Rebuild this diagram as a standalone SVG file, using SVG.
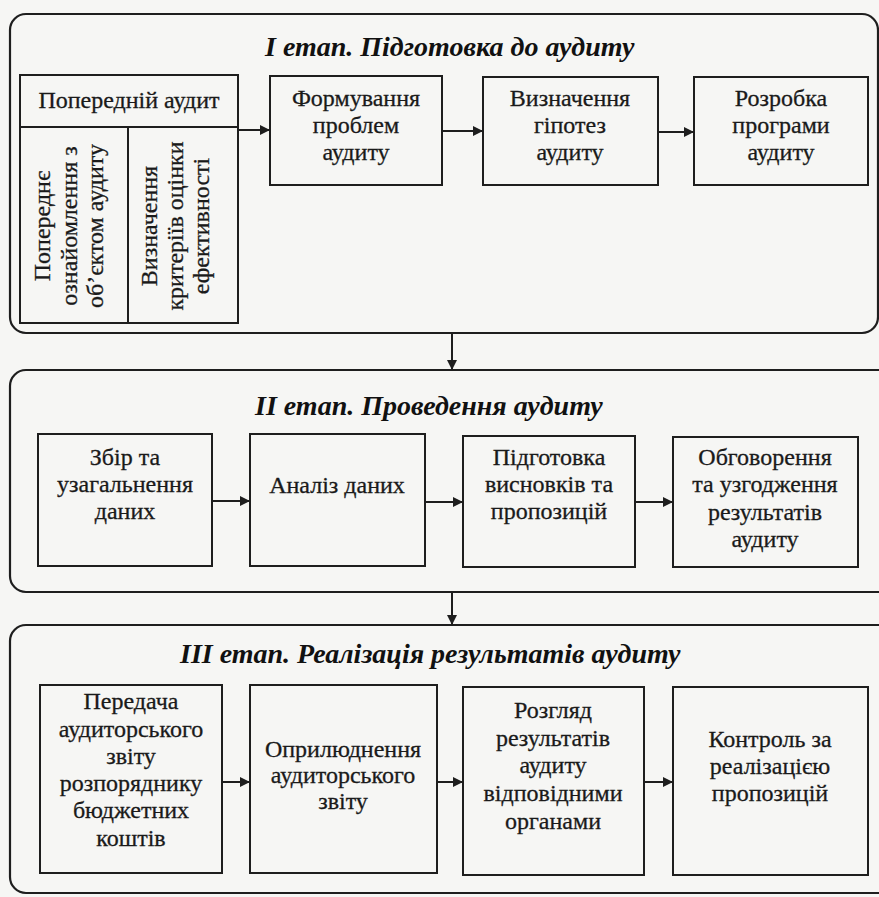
<svg xmlns="http://www.w3.org/2000/svg" width="879" height="897" viewBox="0 0 879 897">
<defs>
<style>
.frame{fill:none;stroke:#1e1e1e;stroke-width:2.2}
.box{fill:none;stroke:#1e1e1e;stroke-width:2}
.t{font-family:"Liberation Serif","Times New Roman",serif;font-size:24px;fill:#1a1a1a;stroke:#1a1a1a;stroke-width:0.3;text-anchor:middle}
.title{font-family:"Liberation Serif","Times New Roman",serif;font-size:28px;font-weight:bold;font-style:italic;fill:#111}
.conn{fill:none;stroke:#1e1e1e;stroke-width:2}
</style>
<marker id="ah" viewBox="0 0 10 10" refX="10" refY="5" markerWidth="12" markerHeight="10" markerUnits="userSpaceOnUse" orient="auto">
<path d="M0,0 L10,5 L0,10 z" fill="#1e1e1e"/>
</marker>
</defs>
<rect width="879" height="897" fill="#f6f6f4"/>

<g id="stage1">
<rect class="frame" x="10" y="14" width="868" height="319" rx="16"/>
<text class="title" x="265" y="56">I етап. Підготовка до аудиту</text>
</g>
<g id="stage2">
<rect class="frame" x="10" y="370" width="900" height="222" rx="16"/>
<text class="title" x="255" y="415">II етап. Проведення аудиту</text>
</g>
<g id="stage3">
<rect class="frame" x="10" y="625" width="900" height="268" rx="16"/>
<text class="title" x="180" y="663">III етап. Реалізація результатів аудиту</text>
</g>

<g id="n-preaudit">
<rect class="box" x="20" y="75" width="218" height="248"/>
<line class="box" x1="20" y1="127" x2="238" y2="127"/>
<line class="box" x1="128" y1="127" x2="128" y2="323"/>
<text class="t" x="129" y="108">Попередній аудит</text>
<text class="t" transform="translate(50,226) rotate(-90)">Попереднє</text>
<text class="t" transform="translate(77,226) rotate(-90)">ознайомлення з</text>
<text class="t" transform="translate(103,226) rotate(-90)">об’єктом аудиту</text>
<text class="t" transform="translate(157,226) rotate(-90)">Визначення</text>
<text class="t" transform="translate(183,226) rotate(-90)">критеріїв оцінки</text>
<text class="t" transform="translate(209,226) rotate(-90)">ефективності</text>
</g>
<g id="n-problems">
<rect class="box" x="270" y="76" width="172" height="109"/>
<text class="t" x="356" y="106">Формування</text>
<text class="t" x="356" y="133">проблем</text>
<text class="t" x="356" y="160">аудиту</text>
</g>
<g id="n-hypotheses">
<rect class="box" x="483" y="77" width="175" height="108"/>
<text class="t" x="570" y="106">Визначення</text>
<text class="t" x="570" y="133">гіпотез</text>
<text class="t" x="570" y="160">аудиту</text>
</g>
<g id="n-program">
<rect class="box" x="694" y="77" width="174" height="108"/>
<text class="t" x="781" y="106">Розробка</text>
<text class="t" x="781" y="133">програми</text>
<text class="t" x="781" y="160">аудиту</text>
</g>

<g id="n-collect">
<rect class="box" x="38" y="434" width="174" height="132"/>
<text class="t" x="125" y="465">Збір та</text>
<text class="t" x="125" y="492">узагальнення</text>
<text class="t" x="125" y="519">даних</text>
</g>
<g id="n-analysis">
<rect class="box" x="250" y="434" width="175" height="132"/>
<text class="t" x="337" y="493">Аналіз даних</text>
</g>
<g id="n-conclusions">
<rect class="box" x="463" y="436" width="172" height="131"/>
<text class="t" x="549" y="465">Підготовка</text>
<text class="t" x="549" y="492">висновків та</text>
<text class="t" x="549" y="519">пропозицій</text>
</g>
<g id="n-discussion">
<rect class="box" x="673" y="437" width="185" height="130"/>
<text class="t" x="765" y="465">Обговорення</text>
<text class="t" x="765" y="492">та узгодження</text>
<text class="t" x="765" y="520">результатів</text>
<text class="t" x="765" y="547">аудиту</text>
</g>

<g id="n-transfer">
<rect class="box" x="40" y="685" width="182" height="188"/>
<text class="t" x="131" y="709">Передача</text>
<text class="t" x="131" y="737">аудиторського</text>
<text class="t" x="131" y="764">звіту</text>
<text class="t" x="131" y="791">розпоряднику</text>
<text class="t" x="131" y="818">бюджетних</text>
<text class="t" x="131" y="846">коштів</text>
</g>
<g id="n-publish">
<rect class="box" x="250" y="685" width="187" height="188"/>
<text class="t" x="343" y="757">Оприлюднення</text>
<text class="t" x="343" y="783">аудиторського</text>
<text class="t" x="343" y="809">звіту</text>
</g>
<g id="n-review">
<rect class="box" x="463" y="687" width="181" height="188"/>
<text class="t" x="553" y="718">Розгляд</text>
<text class="t" x="553" y="746">результатів</text>
<text class="t" x="553" y="773">аудиту</text>
<text class="t" x="553" y="801">відповідними</text>
<text class="t" x="553" y="829">органами</text>
</g>
<g id="n-control">
<rect class="box" x="673" y="687" width="195" height="188"/>
<text class="t" x="770" y="747">Контроль за</text>
<text class="t" x="770" y="774">реалізацією</text>
<text class="t" x="770" y="801">пропозицій</text>
</g>

<g id="connectors">
<line class="conn" x1="238" y1="130" x2="270" y2="130" marker-end="url(#ah)"/>
<line class="conn" x1="442" y1="131" x2="483" y2="131" marker-end="url(#ah)"/>
<line class="conn" x1="658" y1="132" x2="694" y2="132" marker-end="url(#ah)"/>
<line class="conn" x1="452" y1="333" x2="452" y2="370" marker-end="url(#ah)"/>
<line class="conn" x1="212" y1="501" x2="250" y2="501" marker-end="url(#ah)"/>
<line class="conn" x1="425" y1="502" x2="463" y2="502" marker-end="url(#ah)"/>
<line class="conn" x1="635" y1="502" x2="673" y2="502" marker-end="url(#ah)"/>
<line class="conn" x1="452" y1="592" x2="452" y2="625" marker-end="url(#ah)"/>
<line class="conn" x1="222" y1="782" x2="250" y2="782" marker-end="url(#ah)"/>
<line class="conn" x1="437" y1="782" x2="463" y2="782" marker-end="url(#ah)"/>
<line class="conn" x1="644" y1="782" x2="673" y2="782" marker-end="url(#ah)"/>
</g>
</svg>
